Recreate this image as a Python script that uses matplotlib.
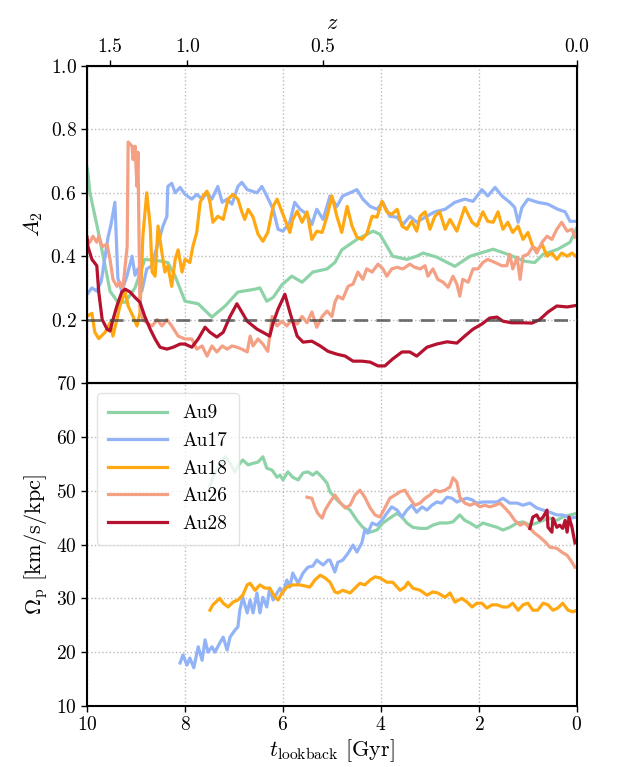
import matplotlib
matplotlib.use("Agg")
import matplotlib.pyplot as plt

plt.rcParams["font.family"] = "serif"
plt.rcParams["font.serif"] = ["cmr10"]
plt.rcParams["mathtext.fontset"] = "cm"
plt.rcParams["axes.formatter.use_mathtext"] = True
plt.rcParams["axes.unicode_minus"] = False

# -------------------------------
# data: lookback time [Gyr] and values
# -------------------------------
names = ["Au9", "Au17", "Au18", "Au26", "Au28"]
colors = ["#8dd3a7", "#93b3f7", "#ffa812", "#f4a084", "#b5122f"]

z_ticks = [1.5, 1.0, 0.5, 0.0]
z_lookback = [9.53, 7.95, 5.19, 0.0]
bar_threshold = 0.2

# A2 (top panel)
t9a = [10.00, 9.98, 9.94, 9.78, 9.67, 9.53, 9.37, 9.22, 9.02, 8.82,
       8.51, 8.35, 8.20, 8.00, 7.73, 7.45, 7.18, 6.92, 6.57, 6.47,
       6.33, 6.20, 6.02, 5.82, 5.61, 5.39, 5.10, 4.94, 4.80, 4.49,
       4.16, 4.02, 3.76, 3.47, 3.27, 3.14, 2.86, 2.49, 2.18, 1.71,
       1.41, 1.06, 0.86, 0.69, 0.39, 0.14, 0.00]
a9 = [0.68, 0.66, 0.60, 0.485, 0.40, 0.29, 0.255, 0.255, 0.30, 0.39,
      0.385, 0.38, 0.337, 0.258, 0.25, 0.208, 0.243, 0.287, 0.296, 0.30,
      0.258, 0.27, 0.31, 0.337, 0.318, 0.35, 0.36, 0.38, 0.42, 0.453,
      0.479, 0.469, 0.40, 0.39, 0.40, 0.41, 0.397, 0.368, 0.40, 0.422,
      0.406, 0.384, 0.38, 0.406, 0.422, 0.444, 0.49]

t17a = [10.00, 9.90, 9.80, 9.71, 9.63, 9.57, 9.51, 9.43, 9.37, 9.29,
        9.18, 9.08, 9.02, 8.96, 8.88, 8.78, 8.67, 8.61, 8.55, 8.45,
        8.37, 8.35, 8.27, 8.20, 8.10, 8.00, 7.86, 7.76, 7.65, 7.55,
        7.45, 7.33, 7.24, 7.14, 7.04, 6.92, 6.84, 6.73, 6.63, 6.53,
        6.43, 6.33, 6.20, 6.10, 6.00, 5.86, 5.76, 5.65, 5.51, 5.41,
        5.31, 5.18, 5.04, 4.90, 4.78, 4.63, 4.49, 4.37, 4.22, 4.08,
        3.96, 3.82, 3.67, 3.55, 3.41, 3.27, 3.10, 2.90, 2.69, 2.49,
        2.29, 2.12, 1.94, 1.82, 1.67, 1.53, 1.37, 1.27, 1.20, 1.12,
        1.00, 0.80, 0.59, 0.39, 0.24, 0.14, 0.00]
a17 = [0.28, 0.30, 0.29, 0.32, 0.40, 0.46, 0.50, 0.57, 0.33, 0.29,
       0.34, 0.40, 0.34, 0.36, 0.29, 0.36, 0.37, 0.41, 0.44, 0.495,
       0.525, 0.62, 0.63, 0.60, 0.617, 0.595, 0.58, 0.595, 0.58, 0.60,
       0.58, 0.62, 0.57, 0.58, 0.564, 0.62, 0.633, 0.61, 0.605, 0.60,
       0.62, 0.59, 0.548, 0.485, 0.479, 0.507, 0.57, 0.548, 0.532, 0.50,
       0.548, 0.516, 0.59, 0.557, 0.59, 0.60, 0.61, 0.58, 0.557, 0.548,
       0.57, 0.526, 0.523, 0.50, 0.526, 0.507, 0.523, 0.54, 0.548, 0.57,
       0.58, 0.573, 0.61, 0.59, 0.617, 0.59, 0.57, 0.554, 0.507, 0.554,
       0.58, 0.57, 0.564, 0.548, 0.54, 0.51, 0.51]

t18a = [10.00, 9.90, 9.84, 9.76, 9.63, 9.53, 9.47, 9.39, 9.33, 9.22,
        9.16, 9.06, 8.98, 8.92, 8.86, 8.78, 8.71, 8.67, 8.61, 8.55,
        8.47, 8.41, 8.35, 8.27, 8.20, 8.14, 8.06, 8.00, 7.90, 7.84,
        7.76, 7.69, 7.63, 7.55, 7.49, 7.43, 7.33, 7.22, 7.12, 7.02,
        6.92, 6.84, 6.78, 6.71, 6.61, 6.51, 6.41, 6.31, 6.20, 6.12,
        6.02, 5.92, 5.86, 5.80, 5.71, 5.61, 5.51, 5.41, 5.31, 5.20,
        5.10, 5.00, 4.90, 4.80, 4.69, 4.59, 4.49, 4.39, 4.29, 4.18,
        4.08, 3.98, 3.88, 3.78, 3.67, 3.57, 3.47, 3.37, 3.27, 3.20,
        3.10, 3.00, 2.90, 2.80, 2.69, 2.59, 2.45, 2.29, 2.14, 2.04,
        1.92, 1.82, 1.71, 1.61, 1.51, 1.41, 1.31, 1.20, 1.10, 1.00,
        0.90, 0.80, 0.71, 0.61, 0.51, 0.41, 0.31, 0.20, 0.10, 0.00]
a18 = [0.21, 0.22, 0.16, 0.14, 0.16, 0.19, 0.148, 0.20, 0.243, 0.287,
       0.243, 0.21, 0.18, 0.22, 0.463, 0.60, 0.495, 0.35, 0.337, 0.495,
       0.41, 0.35, 0.37, 0.305, 0.39, 0.42, 0.35, 0.39, 0.38, 0.43,
       0.475, 0.57, 0.59, 0.605, 0.57, 0.507, 0.526, 0.516, 0.58, 0.595,
       0.58, 0.54, 0.516, 0.548, 0.523, 0.47, 0.447, 0.475, 0.557, 0.58,
       0.54, 0.50, 0.475, 0.516, 0.542, 0.507, 0.54, 0.453, 0.479, 0.475,
       0.526, 0.59, 0.526, 0.475, 0.557, 0.495, 0.46, 0.453, 0.47, 0.526,
       0.523, 0.573, 0.54, 0.532, 0.548, 0.495, 0.485, 0.51, 0.479, 0.526,
       0.54, 0.485, 0.526, 0.54, 0.485, 0.516, 0.479, 0.554, 0.507, 0.495,
       0.54, 0.51, 0.507, 0.54, 0.485, 0.507, 0.475, 0.495, 0.453, 0.475,
       0.43, 0.42, 0.438, 0.40, 0.41, 0.39, 0.41, 0.40, 0.41, 0.397]

t26a = [10.00, 9.94, 9.88, 9.80, 9.76, 9.69, 9.59, 9.53, 9.47, 9.39,
        9.33, 9.27, 9.18, 9.16, 9.08, 9.06, 9.02, 8.98, 8.96, 8.92,
        8.86, 8.78, 8.67, 8.57, 8.47, 8.37, 8.27, 8.14, 8.00, 7.86,
        7.76, 7.65, 7.55, 7.45, 7.35, 7.24, 7.14, 7.04, 6.94, 6.84,
        6.73, 6.67, 6.61, 6.51, 6.41, 6.31, 6.22, 6.12, 6.02, 5.92,
        5.82, 5.71, 5.61, 5.51, 5.41, 5.31, 5.20, 5.10, 5.00, 4.94,
        4.88, 4.78, 4.67, 4.57, 4.47, 4.37, 4.29, 4.18, 4.06, 3.96,
        3.88, 3.78, 3.67, 3.55, 3.41, 3.31, 3.20, 3.10, 3.04, 2.94,
        2.84, 2.73, 2.63, 2.53, 2.45, 2.39, 2.33, 2.22, 2.12, 2.02,
        1.92, 1.82, 1.67, 1.53, 1.43, 1.37, 1.31, 1.22, 1.16, 1.10,
        1.00, 0.90, 0.82, 0.71, 0.61, 0.51, 0.41, 0.31, 0.20, 0.10,
        0.04]
a26 = [0.453, 0.444, 0.463, 0.444, 0.463, 0.43, 0.438, 0.39, 0.327, 0.305,
       0.318, 0.296, 0.43, 0.76, 0.747, 0.705, 0.747, 0.62, 0.728, 0.243,
       0.20, 0.19, 0.18, 0.20, 0.18, 0.20, 0.18, 0.148, 0.139, 0.139,
       0.107, 0.117, 0.085, 0.117, 0.098, 0.117, 0.107, 0.117, 0.113, 0.107,
       0.098, 0.148, 0.117, 0.139, 0.123, 0.10, 0.21, 0.18, 0.195, 0.18,
       0.20, 0.186, 0.21, 0.19, 0.224, 0.176, 0.21, 0.227, 0.21, 0.255,
       0.274, 0.265, 0.305, 0.312, 0.35, 0.327, 0.36, 0.35, 0.375, 0.36,
       0.337, 0.36, 0.365, 0.36, 0.375, 0.365, 0.36, 0.37, 0.337, 0.36,
       0.327, 0.318, 0.302, 0.337, 0.312, 0.274, 0.327, 0.318, 0.36, 0.36,
       0.38, 0.39, 0.38, 0.37, 0.37, 0.406, 0.36, 0.397, 0.327, 0.40,
       0.406, 0.43, 0.41, 0.444, 0.463, 0.453, 0.485, 0.507, 0.479, 0.485,
       0.46]

t28a = [10.00, 9.98, 9.90, 9.80, 9.76, 9.69, 9.59, 9.53, 9.47, 9.39,
        9.29, 9.22, 9.12, 9.02, 8.92, 8.82, 8.71, 8.61, 8.51, 8.37,
        8.24, 8.10, 8.00, 7.86, 7.73, 7.59, 7.49, 7.35, 7.22, 7.08,
        6.94, 6.84, 6.73, 6.61, 6.53, 6.41, 6.27, 6.20, 6.10, 5.96,
        5.86, 5.71, 5.59, 5.41, 5.24, 5.08, 4.90, 4.73, 4.57, 4.39,
        4.22, 4.06, 3.92, 3.76, 3.57, 3.41, 3.27, 3.06, 2.86, 2.65,
        2.45, 2.29, 2.12, 1.94, 1.78, 1.63, 1.51, 1.33, 1.10, 0.92,
        0.76, 0.59, 0.41, 0.20, 0.00]
a28 = [0.46, 0.43, 0.39, 0.37, 0.287, 0.20, 0.17, 0.164, 0.20, 0.243,
       0.287, 0.296, 0.287, 0.27, 0.255, 0.21, 0.17, 0.139, 0.113, 0.107,
       0.113, 0.123, 0.123, 0.113, 0.139, 0.176, 0.16, 0.145, 0.16, 0.21,
       0.25, 0.224, 0.195, 0.18, 0.17, 0.16, 0.148, 0.19, 0.233, 0.28,
       0.224, 0.148, 0.129, 0.132, 0.117, 0.10, 0.091, 0.085, 0.069, 0.069,
       0.066, 0.054, 0.054, 0.076, 0.098, 0.098, 0.085, 0.113, 0.123, 0.13,
       0.126, 0.148, 0.17, 0.186, 0.205, 0.208, 0.195, 0.19, 0.19, 0.189,
       0.20, 0.224, 0.243, 0.24, 0.245]

# pattern speed (bottom panel) [km/s/kpc]
t9b = [7.49, 7.43, 7.29, 7.18, 7.08, 6.98, 6.88, 6.82, 6.71, 6.61,
       6.51, 6.41, 6.33, 6.22, 6.12, 6.06, 6.00, 5.90, 5.80, 5.69,
       5.59, 5.49, 5.39, 5.31, 5.20, 5.10, 5.04, 4.90, 4.78, 4.63,
       4.49, 4.37, 4.22, 4.08, 3.96, 3.82, 3.67, 3.57, 3.47, 3.35,
       3.20, 3.06, 2.94, 2.80, 2.65, 2.53, 2.39, 2.29, 2.18, 2.04,
       1.92, 1.78, 1.63, 1.51, 1.37, 1.22, 1.10, 0.96, 0.82, 0.69,
       0.55, 0.41, 0.29, 0.14, 0.00]
w9 = [50.7, 52.5, 54.8, 56.3, 55.1, 53.5, 55.1, 55.7, 54.8, 55.1,
      55.3, 56.3, 54.2, 53.8, 52.5, 52.9, 52.0, 53.5, 52.5, 52.0,
      53.3, 53.5, 52.9, 53.5, 52.5, 51.4, 49.8, 48.3, 47.3, 46.4,
      44.5, 43.2, 42.3, 42.7, 44.0, 44.9, 45.8, 45.1, 44.0, 43.2,
      43.0, 43.0, 43.6, 44.0, 44.0, 44.2, 45.5, 44.5, 44.0, 43.2,
      44.0, 43.6, 43.2, 42.7, 43.2, 44.0, 44.2, 43.6, 44.0, 44.5,
      44.9, 44.5, 45.1, 45.5, 45.8]

t17b = [8.10, 8.04, 7.96, 7.90, 7.82, 7.73, 7.65, 7.59, 7.53, 7.45,
        7.39, 7.29, 7.22, 7.14, 7.08, 6.98, 6.92, 6.88, 6.82, 6.73,
        6.67, 6.61, 6.53, 6.47, 6.41, 6.33, 6.27, 6.20, 6.12, 6.06,
        6.00, 5.92, 5.86, 5.80, 5.69, 5.59, 5.49, 5.39, 5.31, 5.18,
        5.08, 5.04, 4.94, 4.88, 4.78, 4.67, 4.57, 4.49, 4.39, 4.33,
        4.27, 4.18, 4.08, 3.98, 3.88, 3.78, 3.67, 3.57, 3.47, 3.37,
        3.27, 3.16, 3.06, 2.96, 2.86, 2.76, 2.65, 2.55, 2.45, 2.35,
        2.24, 2.14, 2.04, 1.92, 1.78, 1.63, 1.51, 1.37, 1.22, 1.10,
        0.96, 0.82, 0.69, 0.55, 0.41, 0.29, 0.14, 0.00]
w17 = [18.0, 19.5, 17.6, 18.9, 17.1, 21.0, 18.5, 22.3, 20.0, 21.0,
       20.0, 21.7, 22.8, 20.4, 22.8, 24.1, 24.7, 27.8, 30.2, 27.3,
       29.7, 27.3, 31.0, 27.3, 30.2, 28.4, 31.9, 29.7, 31.0, 31.9,
       31.0, 33.4, 32.1, 34.7, 32.8, 34.7, 35.8, 36.0, 37.1, 36.2,
       37.1, 37.1, 34.9, 36.7, 37.1, 38.4, 39.9, 38.6, 40.3, 42.7,
       42.1, 44.0, 43.6, 44.5, 45.8, 47.0, 46.4, 45.1, 46.4, 47.3,
       46.0, 47.0, 46.4, 47.3, 47.9, 47.7, 48.8, 48.6, 47.9, 48.3,
       48.6, 48.3, 47.7, 47.9, 47.9, 47.9, 48.6, 47.7, 47.7, 47.3,
       47.7, 46.8, 46.4, 46.0, 45.5, 45.5, 44.9, 45.1]

t18b = [7.49, 7.43, 7.29, 7.22, 7.12, 7.02, 6.92, 6.82, 6.73, 6.67,
        6.57, 6.47, 6.37, 6.27, 6.16, 6.10, 6.02, 5.92, 5.80, 5.65,
        5.45, 5.35, 5.24, 5.14, 5.04, 4.94, 4.88, 4.78, 4.63, 4.53,
        4.43, 4.33, 4.22, 4.12, 4.02, 3.88, 3.76, 3.61, 3.51, 3.45,
        3.35, 3.20, 3.06, 2.94, 2.84, 2.69, 2.59, 2.49, 2.35, 2.24,
        2.14, 2.04, 1.94, 1.84, 1.73, 1.63, 1.51, 1.41, 1.31, 1.20,
        1.10, 1.00, 0.90, 0.80, 0.69, 0.59, 0.49, 0.39, 0.29, 0.18,
        0.08, 0.00]
w18 = [27.8, 28.8, 30.0, 29.1, 28.4, 29.3, 29.7, 30.6, 32.5, 32.8,
       31.5, 32.5, 31.9, 31.9, 30.2, 29.7, 31.0, 32.1, 32.5, 32.5,
       32.1, 33.4, 34.3, 33.8, 33.0, 31.2, 31.0, 31.5, 31.0, 31.9,
       32.8, 32.5, 33.4, 34.0, 33.8, 33.0, 33.0, 31.5, 32.1, 33.0,
       31.9, 31.5, 30.6, 31.2, 31.0, 30.2, 31.0, 29.3, 30.0, 29.3,
       28.4, 29.1, 29.1, 28.2, 28.8, 28.8, 28.4, 28.4, 29.1, 27.8,
       28.8, 29.1, 27.8, 27.8, 29.1, 28.8, 27.8, 28.2, 29.1, 27.8,
       27.5, 27.8]

t26b = [5.51, 5.41, 5.35, 5.29, 5.20, 5.14, 5.04, 4.94, 4.84, 4.73,
        4.63, 4.53, 4.43, 4.33, 4.22, 4.12, 4.02, 3.92, 3.82, 3.71,
        3.61, 3.51, 3.41, 3.31, 3.20, 3.10, 3.00, 2.90, 2.80, 2.69,
        2.59, 2.53, 2.45, 2.39, 2.29, 2.18, 2.08, 1.98, 1.88, 1.78,
        1.67, 1.57, 1.47, 1.37, 1.27, 1.16, 1.06, 0.96, 0.86, 0.76,
        0.65, 0.55, 0.41, 0.31, 0.20, 0.10, 0.04]
w26 = [48.8, 48.6, 47.0, 45.8, 44.9, 46.4, 47.9, 49.2, 47.9, 46.8,
       47.3, 49.2, 50.1, 48.8, 46.8, 45.5, 45.1, 46.8, 48.6, 49.2,
       49.8, 50.1, 48.6, 47.3, 47.7, 48.6, 49.2, 50.1, 49.8, 50.1,
       50.7, 52.4, 51.6, 48.8, 47.7, 47.3, 47.7, 47.0, 47.3, 47.0,
       47.3, 47.7, 46.8, 45.8, 44.5, 43.6, 44.0, 43.0, 42.1, 41.4,
       40.5, 39.5, 39.3, 38.6, 38.0, 36.7, 35.8]

t28b = [0.96, 0.90, 0.82, 0.76, 0.69, 0.61, 0.59, 0.51, 0.49, 0.41,
        0.35, 0.29, 0.24, 0.20, 0.16, 0.10, 0.04]
w28 = [43.0, 45.1, 45.5, 44.5, 45.1, 46.4, 43.2, 42.3, 44.9, 43.2,
       43.6, 43.0, 44.5, 42.3, 45.1, 43.2, 40.3]

top_series = [(t9a, a9), (t17a, a17), (t18a, a18), (t26a, a26), (t28a, a28)]
bot_series = [(t9b, w9), (t17b, w17), (t18b, w18), (t26b, w26), (t28b, w28)]

# -------------------------------
# figure
# -------------------------------
fig = plt.figure(figsize=(6.17, 7.67), dpi=100)
ax1 = fig.add_axes([0.141, 0.5006, 0.794, 0.4134])
ax2 = fig.add_axes([0.141, 0.0795, 0.794, 0.4211], sharex=ax1)

lw = 2.3
for (t, v), c, n in zip(top_series, colors, names):
    ax1.plot(t, v, color=c, lw=lw, label=n)
ax1.axhline(bar_threshold, color="#444444", ls=(0, (5, 3)), lw=2, alpha=0.75, zorder=5)

for (t, v), c, n in zip(bot_series, colors, names):
    ax2.plot(t, v, color=c, lw=lw, label=n)

ax1.set_xlim(10, 0)
ax1.set_ylim(0, 1)
ax1.set_yticks([0.2, 0.4, 0.6, 0.8, 1.0])
ax1.set_ylabel(r"$A_2$", fontsize=16)
ax1.tick_params(labelbottom=False)

ax2.set_ylim(10, 70)
ax2.set_yticks([10, 20, 30, 40, 50, 60, 70])
ax2.set_xticks([10, 8, 6, 4, 2, 0])
ax2.set_xlabel(r"$t_{\rm lookback}$ [Gyr]", fontsize=16, labelpad=2)
ax2.set_ylabel(r"$\Omega_{\rm p}$ [km/s/kpc]", fontsize=16)

for ax in (ax1, ax2):
    ax.grid(ls=":", color="#bbbbbb", lw=1)
    ax.tick_params(labelsize=14, direction="out", length=4, width=1)
    for s in ax.spines.values():
        s.set_linewidth(1.5)

# redshift axis on top
axz = ax1.twiny()
axz.set_xlim(ax1.get_xlim())
axz.set_xticks(z_lookback)
axz.set_xticklabels([f"{z:.1f}" for z in z_ticks])
axz.tick_params(labelsize=14, direction="out", length=4, width=1)
axz.set_xlabel(r"$z$", fontsize=16, labelpad=6)

ax2.legend(loc="upper left", fontsize=14, handlelength=3.0, framealpha=0.8,
           edgecolor="#dddddd", borderpad=0.6, labelspacing=0.5)

fig.savefig("out.png", dpi=100)
